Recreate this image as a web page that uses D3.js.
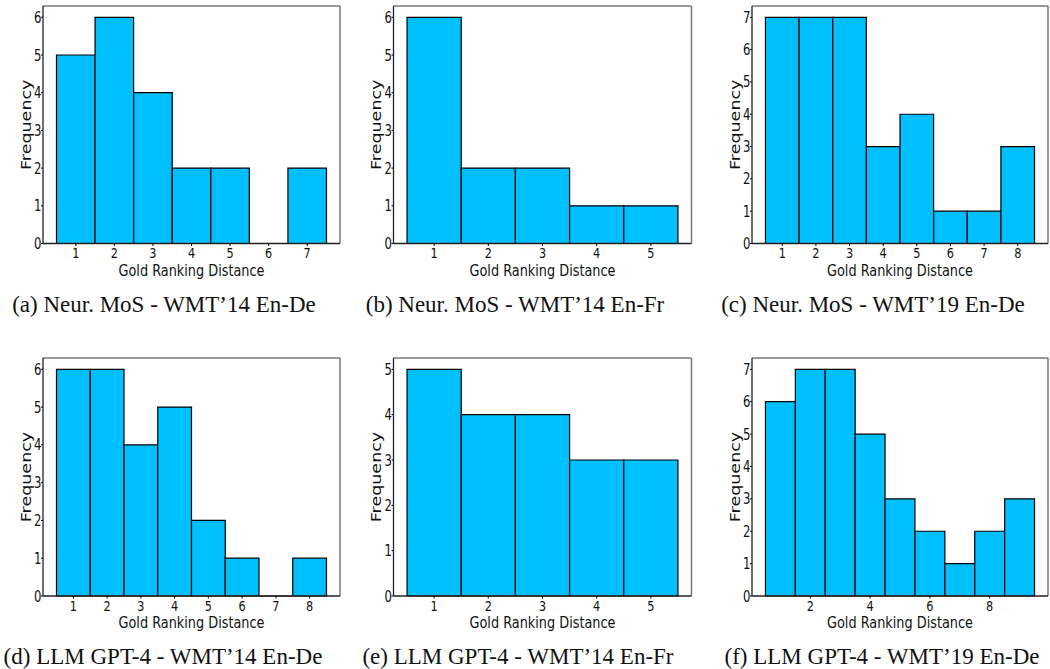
<!DOCTYPE html>
<html>
<head>
<meta charset="utf-8">
<script src="https://cdn.jsdelivr.net/npm/d3@7"></script>
<style>
  body { margin: 0; background: #fff; }
  text { font-family: "DejaVu Sans", sans-serif; }
  .caption { font-family: "Liberation Serif", "Times New Roman", serif; font-size: 23px; }
</style>
</head>
<body>
<div id="chart"></div>
<script>
// histogram counts per gold ranking distance (bins start at 1)
const countsA = [5, 6, 4, 2, 2, 0, 2]
const countsB = [6, 2, 2, 1, 1]
const countsC = [7, 7, 7, 3, 4, 1, 1, 3]
const countsD = [6, 6, 4, 5, 2, 1, 0, 1]
const countsE = [5, 4, 4, 3, 3]
const countsF = [6, 7, 7, 5, 3, 2, 1, 2, 3]

const ticksA = [1, 2, 3, 4, 5, 6, 7]
const ticksB = [1, 2, 3, 4, 5]
const ticksC = [1, 2, 3, 4, 5, 6, 7, 8]
const ticksD = [1, 2, 3, 4, 5, 6, 7, 8]
const ticksE = [1, 2, 3, 4, 5]
const ticksF = [2, 4, 6, 8]

const captions = [
  "(a) Neur. MoS - WMT\u201914 En-De",
  "(b) Neur. MoS - WMT\u201914 En-Fr",
  "(c) Neur. MoS - WMT\u201919 En-De",
  "(d) LLM GPT-4 - WMT\u201914 En-De",
  "(e) LLM GPT-4 - WMT\u201914 En-Fr",
  "(f) LLM GPT-4 - WMT\u201919 En-De"
]

const WIDTH = 1050, HEIGHT = 669
const SX = 0.78  // the original figure is squeezed horizontally

// frame boxes of the six panels
const COLS = [[43, 340], [393.5, 691.5], [752, 1048]]
const ROWS = [[6, 243.5], [358, 596]]
const CAP_X = [[164, 515, 873], [163, 518, 882]]
const CAP_Y = [312, 664]

const panels = [
  { counts: countsA, ticks: ticksA },
  { counts: countsB, ticks: ticksB },
  { counts: countsC, ticks: ticksC },
  { counts: countsD, ticks: ticksD },
  { counts: countsE, ticks: ticksE },
  { counts: countsF, ticks: ticksF }
]

const svg = d3.select("#chart").append("svg")
  .attr("width", WIDTH)
  .attr("height", HEIGHT)

panels.forEach((p, i) => {
  const r = Math.floor(i / 3), c = i % 3
  const [L, R] = COLS[c]
  const [T, B] = ROWS[r]
  const n = p.counts.length
  const bins = p.counts.map((v, k) => ({ x: k + 1, v: v }))
  const maxV = d3.max(p.counts)

  // matplotlib-like 5% margins on x, 5% headroom on y
  const x = d3.scaleLinear()
    .domain([0.5 - 0.05 * n, n + 0.5 + 0.05 * n])
    .range([L, R])
  const y = d3.scaleLinear()
    .domain([0, maxV * 1.05])
    .range([B, T])

  const g = svg.append("g")

  // bars (paths so empty bins still show their outline at zero)
  g.selectAll("path.bar")
    .data(bins)
    .enter().append("path")
    .attr("class", "bar")
    .attr("d", d => {
      const x0 = x(d.x - 0.5), x1 = x(d.x + 0.5), y0 = y(0), y1 = y(d.v)
      return `M${x0},${y0}V${y1}H${x1}V${y0}Z`
    })
    .attr("fill", "#00bfff")
    .attr("stroke", "#000")
    .attr("stroke-width", 1.2)

  // frame: top/right grey, left/bottom black
  g.append("line").attr("x1", L).attr("x2", R).attr("y1", T).attr("y2", T)
    .attr("stroke", "#777").attr("stroke-width", 1.5)
  g.append("line").attr("x1", R).attr("x2", R).attr("y1", T).attr("y2", B)
    .attr("stroke", "#777").attr("stroke-width", 1.5)
  g.append("line").attr("x1", L).attr("x2", L).attr("y1", T).attr("y2", B)
    .attr("stroke", "#222").attr("stroke-width", 1.3)
  g.append("line").attr("x1", L).attr("x2", R).attr("y1", B).attr("y2", B)
    .attr("stroke", "#222").attr("stroke-width", 1.5)

  // x ticks
  const xt = g.selectAll("g.xt").data(p.ticks).enter().append("g")
    .attr("transform", d => `translate(${x(d)},${B})`)
  xt.append("line").attr("y1", 0).attr("y2", 2.5).attr("stroke", "#000")
  xt.append("text")
    .attr("transform", `translate(0,14.5) scale(${SX},1)`)
    .attr("text-anchor", "middle")
    .attr("font-size", 14.5)
    .attr("fill", "#111")
    .text(d => d)

  // y ticks
  const yt = g.selectAll("g.yt").data(d3.range(0, maxV + 1)).enter().append("g")
    .attr("transform", d => `translate(${L},${y(d)})`)
  yt.append("line").attr("x1", 0).attr("x2", -2).attr("stroke", "#000")
  yt.append("text")
    .attr("transform", `translate(-1.5,5.5) scale(${SX},1)`)
    .attr("text-anchor", "end")
    .attr("font-size", 15)
    .attr("fill", "#111")
    .text(d => d)

  // axis titles
  g.append("text")
    .attr("transform", `translate(${(L + R) / 2},${B + 32}) scale(${SX},1)`)
    .attr("text-anchor", "middle")
    .attr("font-size", 16.5)
    .attr("fill", "#111")
    .text("Gold Ranking Distance")
  g.append("text")
    .attr("transform", `translate(${L - 12.5},${(T + B) / 2}) scale(${SX},1) rotate(-90)`)
    .attr("text-anchor", "middle")
    .attr("font-size", 17.5)
    .attr("fill", "#111")
    .text("Frequency")

  // caption
  svg.append("text")
    .attr("class", "caption")
    .attr("x", CAP_X[r][c])
    .attr("y", CAP_Y[r])
    .attr("text-anchor", "middle")
    .attr("fill", "#111")
    .text(captions[i])
})
</script>
</body>
</html>
